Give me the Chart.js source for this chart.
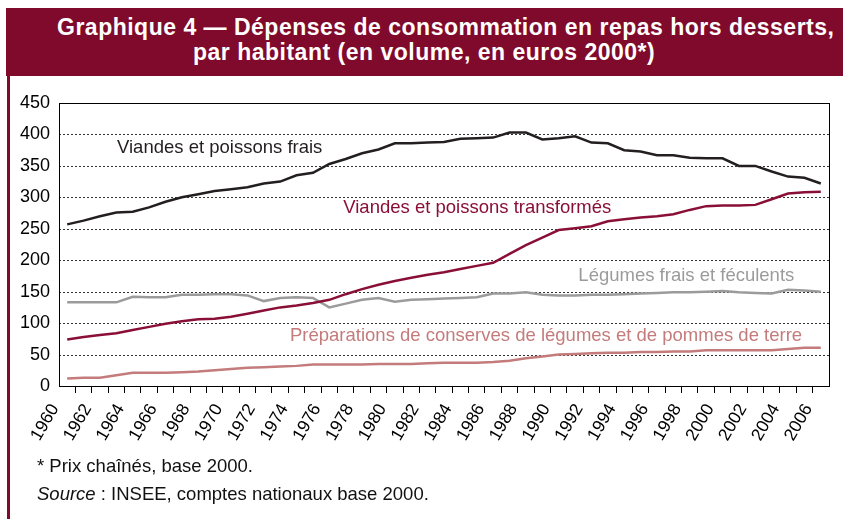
<!DOCTYPE html>
<html>
<head>
<meta charset="utf-8">
<script src="https://cdn.jsdelivr.net/npm/chart.js@4.4.0/dist/chart.umd.min.js"></script>
<style>
  body { margin: 0; width: 843px; height: 519px; background: #fff; position: relative; overflow: hidden; font-family: "Liberation Sans", Arial, sans-serif; }
  #bandeau { position: absolute; left: 6px; top: 8px; width: 837px; height: 68px; background: #7f0a2b; color: #fff; font-weight: bold; font-size: 23px; line-height: 23px; letter-spacing: 0.5px; }
  #bandeau div { position: absolute; white-space: nowrap; }
  #trait { position: absolute; left: 7px; top: 76px; width: 3px; height: 443px; background: #7f0a2b; }
  #zone { position: absolute; left: 0; top: 80px; width: 843px; height: 380px; }
  .note { position: absolute; left: 37px; font-size: 18.5px; line-height: 18.5px; color: #111; white-space: nowrap; }
</style>
</head>
<body>
<div id="bandeau">
  <div style="left:51px; top:7.5px;">Graphique 4 — Dépenses de consommation en repas hors desserts,</div>
  <div style="left:187px; top:32.5px;">par habitant (en volume, en euros 2000*)</div>
</div>
<div id="trait"></div>
<div id="zone"><canvas id="graphique"></canvas></div>
<div class="note" style="top:457px;">* Prix chaînés, base 2000.</div>
<div class="note" style="top:485px;"><i>Source</i> : INSEE, comptes nationaux base 2000.</div>

<script>
// Données (euros 2000 par habitant)
const annees = [1960, 1961, 1962, 1963, 1964, 1965, 1966, 1967, 1968, 1969,
  1970, 1971, 1972, 1973, 1974, 1975, 1976, 1977, 1978, 1979,
  1980, 1981, 1982, 1983, 1984, 1985, 1986, 1987, 1988, 1989,
  1990, 1991, 1992, 1993, 1994, 1995, 1996, 1997, 1998, 1999,
  2000, 2001, 2002, 2003, 2004, 2005, 2006];

const viandesFrais = [257, 263, 270, 276, 277, 284, 293, 300, 305, 310,
  313, 316, 322, 325, 335, 339, 353, 361, 370, 376,
  386, 386, 387, 388, 393, 394, 395, 403, 403, 392,
  394, 397, 387, 386, 375, 373, 367, 367, 363, 362,
  362, 350, 350, 341, 333, 331, 322];

const viandesTransformees = [74, 78, 81, 84, 89, 94, 99, 103, 106, 107,
  110, 115, 120, 125, 128, 132, 137, 146, 154, 161,
  167, 172, 177, 181, 186, 191, 196, 210, 224, 236,
  248, 251, 254, 262, 265, 268, 270, 273, 280, 286,
  287, 287, 288, 297, 306, 308, 309];

const legumesFrais = [133, 133, 133, 133, 142, 141, 141, 145, 145, 146,
  146, 144, 135, 140, 141, 140, 125, 131, 137, 140,
  134, 137, 138, 139, 140, 141, 147, 147, 149, 145,
  144, 144, 145, 145, 146, 147, 148, 149, 149, 150,
  151, 149, 148, 147, 153, 152, 150];

const preparationsLegumes = [12, 13, 13, 17, 21, 21, 21, 22, 23, 25,
  27, 29, 30, 31, 32, 34, 34, 34, 34, 35,
  35, 35, 36, 37, 37, 37, 38, 40, 44, 47,
  50, 51, 52, 53, 53, 54, 54, 55, 55, 57,
  57, 57, 57, 57, 59, 61, 61];

const nomsSeries = [
  "Viandes et poissons frais",
  "Viandes et poissons transformés",
  "Légumes frais et féculents",
  "Préparations de conserves de légumes et de pommes de terre"
];
const couleurs = ["#231f20", "#8a0f36", "#9b9b9b", "#c47b7b"];

// étiquettes posées dans le graphique : [indice de catégorie, valeur]
const positionsEtiquettes = [[3.04, 371], [16.85, 275], [31.2, 167], [13.6, 72]];

const transparent = "rgba(0,0,0,0)";

// lignes pointillées horizontales
const grille = {
  id: "grille",
  beforeDatasetsDraw(chart) {
    const { ctx, chartArea: a, scales } = chart;
    ctx.save();
    ctx.strokeStyle = "#333";
    ctx.lineWidth = 1;
    ctx.setLineDash([2, 2]);
    scales.y.ticks.forEach(t => {
      if (t.value === 0 || t.value === 450) return;
      const y = Math.round(scales.y.getPixelForValue(t.value)) + 0.5;
      ctx.beginPath();
      ctx.moveTo(a.left, y);
      ctx.lineTo(a.right, y);
      ctx.stroke();
    });
    ctx.restore();
  }
};

// cadre, années inclinées et noms des séries
const cadre = {
  id: "cadre",
  afterDraw(chart) {
    const { ctx, chartArea: a, scales } = chart;
    ctx.save();
    ctx.strokeStyle = "#000";
    ctx.lineWidth = 1;
    ctx.strokeRect(Math.round(a.left) + 0.5, Math.round(a.top) + 0.5, Math.round(a.right - a.left), Math.round(a.bottom - a.top));

    // années : fin du texte sur le trait de graduation, inclinées à 60°
    ctx.fillStyle = "#000";
    ctx.font = "17.5px 'Liberation Sans Narrow', 'Liberation Sans', Arial, sans-serif";
    ctx.textAlign = "right";
    ctx.textBaseline = "alphabetic";
    annees.forEach((an, i) => {
      if (an % 2 !== 0) return;
      const x = scales.x.getPixelForValue(i - 0.5);
      ctx.save();
      ctx.translate(x, a.bottom + 22);
      ctx.rotate(-Math.PI / 3);
      ctx.fillText(String(an), 0, 0);
      ctx.restore();
    });

    ctx.font = "18.5px 'Liberation Sans', Arial, sans-serif";
    ctx.textAlign = "left";
    nomsSeries.forEach((nom, i) => {
      const p = positionsEtiquettes[i];
      ctx.fillStyle = couleurs[i];
      ctx.fillText(nom, scales.x.getPixelForValue(p[0]), scales.y.getPixelForValue(p[1]));
    });
    ctx.restore();
  }
};

const series = [viandesFrais, viandesTransformees, legumesFrais, preparationsLegumes];

new Chart(document.getElementById("graphique"), {
  type: "line",
  data: {
    labels: annees,
    datasets: series.map((valeurs, i) => ({
      label: nomsSeries[i],
      data: valeurs,
      borderColor: couleurs[i],
      borderWidth: 2.5,
      pointRadius: 0,
      tension: 0,
      fill: false
    }))
  },
  options: {
    responsive: true,
    maintainAspectRatio: false,
    animation: false,
    layout: { padding: { top: 23, right: 14, left: 0, bottom: 0 } },
    plugins: { legend: { display: false }, tooltip: { enabled: false } },
    scales: {
      x: {
        type: "category",
        offset: true,
        afterFit: s => { s.height = 74; },
        grid: {
          offset: true,
          drawOnChartArea: false,
          drawTicks: true,
          tickLength: 7,
          tickColor: c => (c.index === undefined || c.index === 0) ? transparent : "#000",
          tickWidth: 1
        },
        border: { display: true, color: "#000", width: 1 },
        ticks: { display: false, autoSkip: false }
      },
      y: {
        min: 0,
        max: 450,
        afterFit: s => { s.width = 59; },
        grid: { display: false, drawTicks: false },
        border: { display: true, color: "#000", width: 1 },
        ticks: {
          stepSize: 50,
          padding: 9,
          color: "#000",
          font: { family: "'Liberation Sans', Arial, sans-serif", size: 18 }
        }
      }
    }
  },
  plugins: [grille, cadre]
});
</script>
</body>
</html>
